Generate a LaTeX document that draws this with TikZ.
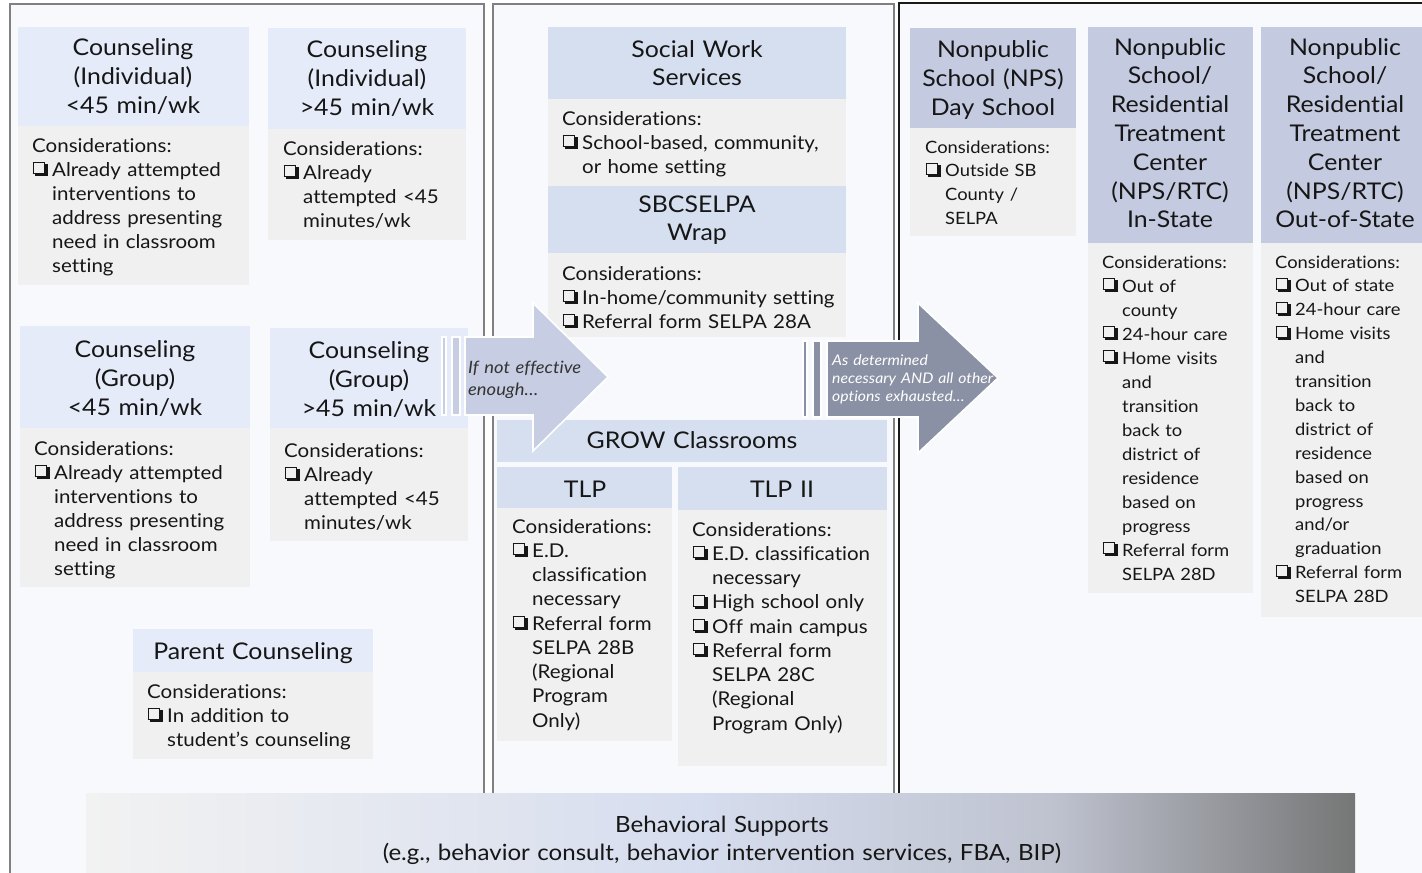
\documentclass[tikz,border=0pt]{standalone}
\usepackage{fontspec}
\setmainfont{Lato}[FakeStretch=1.08, Ligatures=NoCommon]
\definecolor{ink}{HTML}{161616}
\definecolor{panelbg}{HTML}{F8F9FC}
\definecolor{hdrL}{HTML}{E5EBF8}
\definecolor{hdrM}{HTML}{D6DFF0}
\definecolor{hdrR}{HTML}{C4CAE0}
\definecolor{consG}{HTML}{F0F0F0}
\definecolor{arrA}{HTML}{C7CDE2}
\definecolor{arrB}{HTML}{8B91A4}
\definecolor{barA}{HTML}{F2F2F2}
\definecolor{barB}{HTML}{D6DDEE}
\definecolor{barC}{HTML}{BFC3D0}
\definecolor{barD}{HTML}{767676}
\pgfdeclarehorizontalshading{barshade}{100bp}{color(0bp)=(barA); color(25bp)=(barA); color(49bp)=(barB); color(63bp)=(barC); color(75bp)=(barD); color(100bp)=(barD)}
% shadowed check box built from rules
\newcommand\cbglyph{%
  \rlap{\rule[2pt]{12.5pt}{1.2pt}}%
  \rlap{\rule[12.8pt]{12.5pt}{1.2pt}}%
  \rlap{\rule[2pt]{1.2pt}{12pt}}%
  \rlap{\hspace{11.3pt}\rule[2pt]{1.2pt}{12pt}}%
  \rlap{\hspace{12.5pt}\rule[0pt]{2.6pt}{11.6pt}}%
  \rlap{\hspace{2.4pt}\rule[0pt]{12.7pt}{2pt}}}
\newcommand\cb{\makebox[20pt][l]{\hspace{0.5pt}\cbglyph}}
\newcommand\ii{\hspace*{20pt}}
\newcommand\bx[6]{\node[boxn, fill=#6, minimum width=#4pt-#2pt, minimum height=#5pt-#3pt] (#1) at (#2,#3) {};}
\tikzset{
  boxn/.style={anchor=north west, inner sep=0pt, outer sep=0pt, draw=none},
  htxt/.style={anchor=base, align=center, inner sep=0pt, text width=300pt, text=ink, font=\fontsize{23}{29}\selectfont},
  btxt/.style={anchor=base west, align=left, inner sep=0pt, text width=330pt, text=ink, font=\fontsize{19}{24}\selectfont},
  rtxt/.style={btxt, font=\fontsize{17}{24}\selectfont},
  panelbox/.style={anchor=north west, inner sep=0pt, fill=panelbg, line width=1.6pt},
  arrowshape/.style={draw=white, line width=1.6pt},
}
\begin{document}
\begin{tikzpicture}[x=1pt,y=-1pt]
\useasboundingbox (0,0) rectangle (1422,873);
\clip (0,0) rectangle (1422,873);
\fill[white] (0,0) rectangle (1422,873);
% panels
\node[panelbox, draw=black!50, minimum width=474pt, minimum height=900pt] (pL) at (9,3) {};
\node[panelbox, draw=black!50, minimum width=401pt, minimum height=900pt] (pM) at (492,3) {};
\node[panelbox, draw=black!90, minimum width=560pt, minimum height=900pt] (pR) at (898,2) {};

% ---------- left panel ----------
\bx{aH}{18}{27}{249}{126}{hdrL}
\bx{aC}{18}{126}{249}{285}{consG}
\node[htxt] (aHt) at (133,55) {Counseling\\(Individual)\\<45 min/wk};
\node[btxt] (aCt) at (32,152) {Considerations:\\\cb Already attempted\\\ii interventions to\\\ii address presenting\\\ii need in classroom\\\ii setting};

\bx{bH}{268}{28}{466}{129}{hdrL}
\bx{bC}{268}{129}{466}{240}{consG}
\node[htxt] (bHt) at (367,57) {Counseling\\(Individual)\\>45 min/wk};
\node[btxt] (bCt) at (283,155) {Considerations:\\\cb Already\\\ii attempted <45\\\ii minutes/wk};

\bx{cH}{20}{326}{250}{428}{hdrL}
\bx{cC}{20}{428}{250}{587}{consG}
\node[htxt] (cHt) at (135,357) {Counseling\\(Group)\\<45 min/wk};
\node[btxt] (cCt) at (34,455) {Considerations:\\\cb Already attempted\\\ii interventions to\\\ii address presenting\\\ii need in classroom\\\ii setting};

\bx{dH}{270}{328}{468}{428}{hdrL}
\bx{dC}{270}{428}{468}{541}{consG}
\node[htxt] (dHt) at (369,358) {Counseling\\(Group)\\>45 min/wk};
\node[btxt] (dCt) at (284,457) {Considerations:\\\cb Already\\\ii attempted <45\\\ii minutes/wk};

\bx{eH}{133}{629}{373}{672}{hdrL}
\bx{eC}{133}{672}{373}{759}{consG}
\node[htxt] (eHt) at (253,659) {Parent Counseling};
\node[btxt] (eCt) at (147,698) {Considerations:\\\cb In addition to\\\ii student’s counseling};

% ---------- middle panel ----------
\bx{swH}{548}{27}{846}{99}{hdrM}
\bx{swC}{548}{99}{846}{186}{consG}
\node[htxt] (swHt) at (697,57) {Social Work\\[-1pt]Services};
\node[btxt] (swCt) at (562,125) {Considerations:\\\cb School-based, community,\\\ii or home setting};

\bx{wpH}{548}{186}{846}{253}{hdrM}
\bx{wpC}{548}{253}{846}{337}{consG}
\node[htxt] (wpHt) at (697,212) {SBCSELPA\\[-1pt]Wrap};
\node[btxt] (wpCt) at (562,280) {Considerations:\\\cb In-home/community setting\\\cb Referral form SELPA 28A};

\bx{grH}{497}{420}{887}{462}{hdrM}
\node[htxt] (grHt) at (692,448) {GROW Classrooms};

\bx{tlH}{497}{467}{672}{508}{hdrM}
\bx{tlC}{497}{508}{672}{741}{consG}
\node[htxt] (tlHt) at (585,497) {TLP};
\node[btxt, font=\fontsize{19}{24.25}\selectfont] (tlCt) at (512,533) {Considerations:\\\cb E.D.\\\ii classification\\\ii necessary\\\cb Referral form\\\ii SELPA 28B\\\ii (Regional\\\ii Program\\\ii Only)};

\bx{t2H}{678}{467}{887}{510}{hdrM}
\bx{t2C}{678}{510}{887}{766}{consG}
\node[htxt] (t2Ht) at (782,497) {TLP II};
\node[btxt, font=\fontsize{19}{24.25}\selectfont] (t2Ct) at (692,536) {Considerations:\\\cb E.D. classification\\\ii necessary\\\cb High school only\\\cb Off main campus\\\cb Referral form\\\ii SELPA 28C\\\ii (Regional\\\ii Program Only)};

% ---------- right panel ----------
\bx{npH}{910}{28}{1076}{128}{hdrR}
\bx{npC}{910}{128}{1076}{236}{consG}
\node[htxt] (npHt) at (993,57) {Nonpublic\\School (NPS)\\Day School};
\node[rtxt, font=\fontsize{17}{23.7}\selectfont] (npCt) at (925,153) {Considerations:\\\cb Outside SB\\\ii County /\\\ii SELPA};

\bx{r1H}{1088}{27}{1253}{243}{hdrR}
\bx{r1C}{1088}{243}{1253}{593}{consG}
\node[htxt, font=\fontsize{23}{28.8}\selectfont] (r1Ht) at (1170,55) {Nonpublic\\School/\\Residential\\Treatment\\Center\\(NPS/RTC)\\In-State};
\node[rtxt] (r1Ct) at (1102,268) {Considerations:\\\cb Out of\\\ii county\\\cb 24-hour care\\\cb Home visits\\\ii and\\\ii transition\\\ii back to\\\ii district of\\\ii residence\\\ii based on\\\ii progress\\\cb Referral form\\\ii SELPA 28D};

\bx{r2H}{1261}{27}{1430}{243}{hdrR}
\bx{r2C}{1261}{243}{1430}{617}{consG}
\node[htxt, font=\fontsize{23}{28.8}\selectfont] (r2Ht) at (1345,55) {Nonpublic\\School/\\Residential\\Treatment\\Center\\(NPS/RTC)\\Out-of-State};
\node[rtxt, font=\fontsize{17}{23.9}\selectfont] (r2Ct) at (1275,268) {Considerations:\\\cb Out of state\\\cb 24-hour care\\\cb Home visits\\\ii and\\\ii transition\\\ii back to\\\ii district of\\\ii residence\\\ii based on\\\ii progress\\\ii and/or\\\ii graduation\\\cb Referral form\\\ii SELPA 28D};

% ---------- arrows ----------
\path[arrowshape, fill=arrA] (442,337) rectangle (446,415);
\path[arrowshape, fill=arrA] (452,337) rectangle (460,415);
\path[arrowshape, fill=arrA] (465,337) -- (533,337) -- (533,303) -- (608,377) -- (533,451) -- (533,415) -- (465,415) -- cycle;
\node[anchor=base west, align=left, inner sep=0pt, text width=140pt, text=black!80, font=\itshape\fontsize{17}{22}\selectfont] (a1t) at (468,373) {If not effective\\enough…};

\path[arrowshape, fill=arrB] (803,341) rectangle (807,417);
\path[arrowshape, fill=arrB] (813,341) rectangle (821,417);
\path[arrowshape, fill=arrB] (827,341) -- (918,341) -- (918,303) -- (998,378) -- (918,453) -- (918,417) -- (827,417) -- cycle;
\node[anchor=base west, align=left, inner sep=0pt, text width=180pt, text=white, font=\itshape\fontsize{14.6}{18}\selectfont] (a2t) at (832,365) {As determined\\necessary AND all other\\options exhausted…};

% ---------- bottom bar ----------
\node[anchor=north west, inner sep=0pt, minimum width=1269pt, minimum height=90pt, shading=barshade] (bar) at (86,793) {};
\node[anchor=base, align=center, inner sep=0pt, text width=900pt, text=ink, font=\fontsize{22.3}{28.5}\selectfont] (bart) at (722,832) {Behavioral Supports\\(e.g., behavior consult, behavior intervention services, FBA, BIP)};
\end{tikzpicture}
\end{document}
